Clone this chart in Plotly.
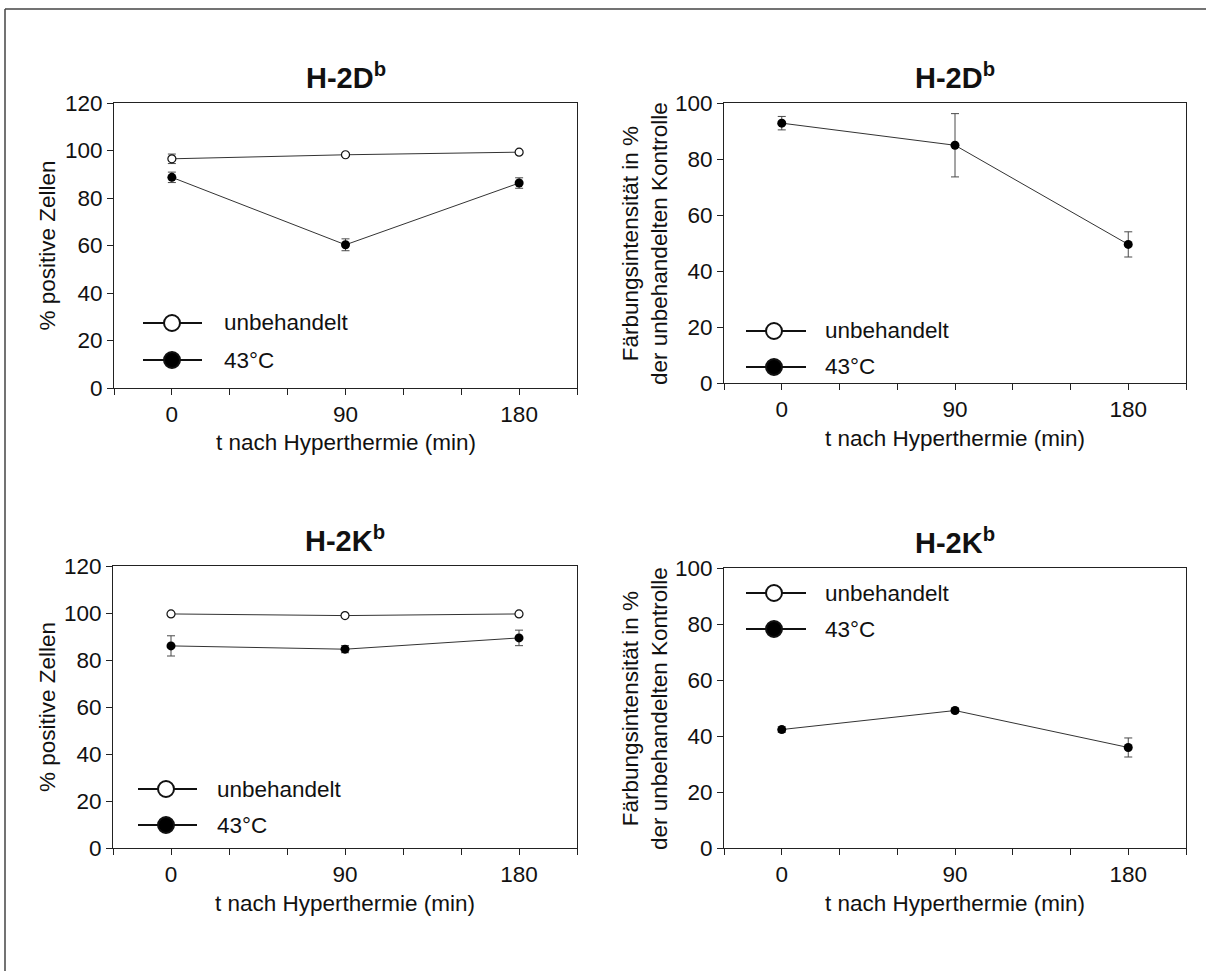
import plotly.graph_objects as go

W, H = 1206, 971

# ---------------- data ----------------
t_min = [0, 90, 180]
x_tickvals = [0, 90, 180]
x_ticktext = ["0", "90", "180"]
x_minor_ticks = [-30, 30, 60, 120, 150, 210]

# H-2Db, % positive cells
ctrl_D_pos = [96.5, 98.2, 99.3]
ctrl_D_pos_err = [2.0, 0.7, 0.7]
heat_D_pos = [88.7, 60.3, 86.3]
heat_D_pos_err = [2.2, 2.5, 2.2]

# H-2Db, staining intensity (% of untreated control)
heat_D_int = [92.8, 84.9, 49.5]
heat_D_int_err = [2.4, 11.3, 4.5]

# H-2Kb, % positive cells
ctrl_K_pos = [99.6, 98.9, 99.6]
ctrl_K_pos_err = [0.6, 0.6, 0.6]
heat_K_pos = [86.0, 84.6, 89.4]
heat_K_pos_err = [4.3, 1.5, 3.3]

# H-2Kb, staining intensity
heat_K_int = [42.3, 49.1, 35.9]
heat_K_int_err = [1.0, 0.8, 3.4]

legend_labels = ["unbehandelt", "43°C"]
panel_titles = ["H-2D<sup>b</sup>", "H-2D<sup>b</sup>", "H-2K<sup>b</sup>", "H-2K<sup>b</sup>"]
ytitle_pos = "% positive Zellen"
ytitle_int = "Färbungsintensität in %<br>der unbehandelten Kontrolle"
xtitle = "t nach Hyperthermie (min)"

FONT = "Liberation Sans, Arial, Helvetica, sans-serif"
TXT = "#111111"
LINE = "#333333"
ERR = "#4a4a4a"
FS = 22.5

def px_x(v):
    return v / W

def px_y(v):
    return 1 - v / H

# panel boxes in pixels: (left, right, top, bottom)
boxes = [
    (114, 577, 103, 388),
    (724, 1186, 103, 383),
    (113, 577, 566, 848),
    (724, 1186, 568, 848),
]
yranges = [[0, 120], [0, 100], [0, 120], [0, 100]]
ydticks = [20, 20, 20, 20]

fig = go.Figure()

def ctrl_trace(y, err, k):
    return go.Scatter(
        x=t_min, y=y, mode="lines+markers",
        line=dict(color=LINE, width=1),
        marker=dict(symbol="circle", size=8, color="white", line=dict(color="#111", width=1.2)),
        error_y=dict(type="data", array=err, visible=True, color=ERR, thickness=1, width=4),
        xaxis=f"x{k}" if k > 1 else "x", yaxis=f"y{k}" if k > 1 else "y",
        showlegend=False, hoverinfo="x+y",
    )

def heat_trace(y, err, k):
    return go.Scatter(
        x=t_min, y=y, mode="lines+markers",
        line=dict(color=LINE, width=1),
        marker=dict(symbol="circle", size=9, color="#000"),
        error_y=dict(type="data", array=err, visible=True, color=ERR, thickness=1, width=4),
        xaxis=f"x{k}" if k > 1 else "x", yaxis=f"y{k}" if k > 1 else "y",
        showlegend=False, hoverinfo="x+y",
    )

fig.add_trace(heat_trace(heat_D_pos, heat_D_pos_err, 1))
fig.add_trace(ctrl_trace(ctrl_D_pos, ctrl_D_pos_err, 1))
fig.add_trace(heat_trace(heat_D_int, heat_D_int_err, 2))
fig.add_trace(heat_trace(heat_K_pos, heat_K_pos_err, 3))
fig.add_trace(ctrl_trace(ctrl_K_pos, ctrl_K_pos_err, 3))
fig.add_trace(heat_trace(heat_K_int, heat_K_int_err, 4))

layout = dict(
    template="none",
    width=W, height=H, autosize=False,
    margin=dict(l=0, r=0, t=0, b=0, pad=0, autoexpand=False),
    paper_bgcolor="white", plot_bgcolor="white",
    font=dict(family=FONT, size=FS, color=TXT),
    showlegend=False,
)

for i, (l, r, t, b) in enumerate(boxes):
    k = i + 1
    xa = "xaxis" if k == 1 else f"xaxis{k}"
    ya = "yaxis" if k == 1 else f"yaxis{k}"
    layout[xa] = dict(
        domain=[px_x(l), px_x(r)], range=[-30, 210], automargin=False,
        tickmode="array", tickvals=x_tickvals, ticktext=x_ticktext,
        ticks="outside", ticklen=6, tickwidth=1, tickcolor="#222",
        minor=dict(tickmode="array", tickvals=x_minor_ticks, ticks="outside",
                   ticklen=6, tickwidth=1, tickcolor="#222", showgrid=False),
        showline=True, linecolor="#222", linewidth=1, mirror=True,
        showgrid=False, zeroline=False,
        anchor="y" if k == 1 else f"y{k}",
        tickfont=dict(size=FS, color=TXT),
    )
    layout[ya] = dict(
        domain=[px_y(b), px_y(t)], range=yranges[i], automargin=False,
        tickmode="linear", tick0=0, dtick=ydticks[i],
        ticks="outside", ticklen=6, tickwidth=1, tickcolor="#222",
        showline=True, linecolor="#222", linewidth=1, mirror=True,
        showgrid=False, zeroline=False,
        anchor="x" if k == 1 else f"x{k}",
        tickfont=dict(size=FS, color=TXT),
    )

fig.update_layout(**layout)

annotations = []
shapes = []

# panel titles and x titles
for i, (l, r, t, b) in enumerate(boxes):
    annotations.append(dict(
        text=f"<b>{panel_titles[i]}</b>", xref="paper", yref="paper",
        x=px_x((l + r) / 2), y=px_y(t - 27), xanchor="center", yanchor="middle",
        showarrow=False, font=dict(size=29, color=TXT, family=FONT),
    ))
    annotations.append(dict(
        text=xtitle, xref="paper", yref="paper",
        x=px_x((l + r) / 2), y=px_y(b + 55), xanchor="center", yanchor="middle",
        showarrow=False, font=dict(size=FS, color=TXT, family=FONT),
    ))

# y titles
ytitles = [(ytitle_pos, 47), (ytitle_int, 645), (ytitle_pos, 47), (ytitle_int, 645)]
for i, (l, r, t, b) in enumerate(boxes):
    txt, xc = ytitles[i]
    annotations.append(dict(
        text=txt, xref="paper", yref="paper",
        x=px_x(xc), y=px_y((t + b) / 2), xanchor="center", yanchor="middle",
        textangle=-90, showarrow=False, font=dict(size=FS, color=TXT, family=FONT),
    ))

# manual legends: (line x0, line x1, marker x, text x, row1 y, row2 y)
legends = [
    (143, 202, 172, 222, 323, 360),
    (746, 806, 774, 823, 331, 367),
    (138, 197, 166, 215, 789, 825),
    (746, 806, 774, 823, 593, 629),
]
for (x0, x1, mx, tx, y1, y2) in legends:
    for j, yy in enumerate([y1, y2]):
        shapes.append(dict(type="line", xref="paper", yref="paper",
                           x0=px_x(x0), x1=px_x(x1), y0=px_y(yy), y1=px_y(yy),
                           line=dict(color="#111", width=2)))
        shapes.append(dict(type="circle", xref="paper", yref="paper",
                           xsizemode="pixel", ysizemode="pixel",
                           xanchor=px_x(mx), yanchor=px_y(yy),
                           x0=-8, x1=8, y0=-8, y1=8,
                           fillcolor="white" if j == 0 else "#000",
                           line=dict(color="#111", width=2)))
        annotations.append(dict(
            text=legend_labels[j], xref="paper", yref="paper",
            x=px_x(tx), y=px_y(yy), xanchor="left", yanchor="middle",
            showarrow=False, font=dict(size=FS, color=TXT, family=FONT),
        ))

# outer frame (top and left)
shapes.append(dict(type="line", xref="paper", yref="paper",
                   x0=px_x(5), x1=1, y0=px_y(9), y1=px_y(9),
                   line=dict(color="#444", width=1.5)))
shapes.append(dict(type="line", xref="paper", yref="paper",
                   x0=px_x(5), x1=px_x(5), y0=px_y(9), y1=0,
                   line=dict(color="#444", width=1.5)))

fig.update_layout(annotations=annotations, shapes=shapes)

fig.write_html(
    "out.html",
    config={"responsive": False, "displayModeBar": False},
    post_script="document.body.style.margin='0';document.body.style.overflow='hidden';",
)
